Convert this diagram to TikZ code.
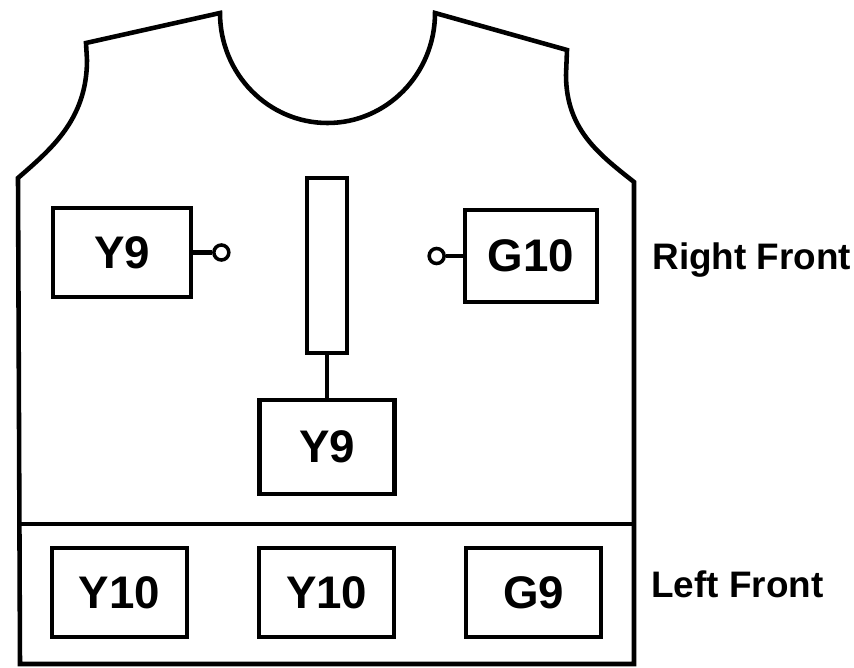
\documentclass[tikz,border=0pt]{standalone}
\usepackage{fontspec}
\setmainfont{Liberation Sans}
\usetikzlibrary{positioning}

\begin{document}
\begin{tikzpicture}[x=0.02cm, y=-0.02cm,
			patch/.style={
				draw,
				line width=2.4pt,
				minimum width=2.7cm,
				minimum height=1.78cm,
				inner sep=0pt,
				font=\fontsize{26}{30}\selectfont\bfseries
			},
			ring/.style={draw, circle, line width=2pt, minimum size=0.3cm, inner sep=0pt},
			side/.style={inner sep=0pt, font=\fontsize{21}{25}\selectfont\bfseries}]
			
			\useasboundingbox (0,0) rectangle (854,668);
			
			% vest outline
			\draw[line width=2.6pt]
			(20,664) -- (18,178) .. controls (50,150) and (87,120) .. (87,60) -- (86,43) -- (220,13)
			arc[start angle=180, end angle=0, x radius=107.5, y radius=110]
			-- (567,50) -- (566,75) .. controls (566,130) and (600,155) .. (634,182) -- (634,664) -- cycle;
			
			\draw[line width=2.6pt] (20,524) -- (634,524);
			
			\node(yl)[patch, minimum width=2.76cm] at (122,252.5){Y9};
			
			\node(gr)[patch, minimum width=2.64cm, minimum height=1.84cm] at (531,256){G10};
			
			\node(bar)[draw, line width=2.4pt, minimum width=0.8cm, minimum height=3.5cm] at (327,265.5){};
			
			\node(yc)[patch, minimum height=1.88cm, below=0.86cm of bar]{Y9};
			
			\node(rl)[ring, right=0.38cm of yl]{};
			
			\node(rr)[ring, left=0.34cm of gr]{};
			
			\node(ya)[patch] at (119.5,592.5){Y10};
			
			\node(yb)[patch, right=1.36cm of ya]{Y10};
			
			\node(gb)[patch, right=1.36cm of yb]{G9};
			
			\node(rf)[side, anchor=base west] at (652,270){Right Front};
			
			\node(lf)[side, anchor=west] at (651,584){Left Front};
			
			\draw[line width=2.4pt](yl)--(rl);
			
			\draw[line width=2.4pt](rr)--(gr);
			
			\draw[line width=2.4pt](bar)--(yc);
			
		\end{tikzpicture}
\end{document}
